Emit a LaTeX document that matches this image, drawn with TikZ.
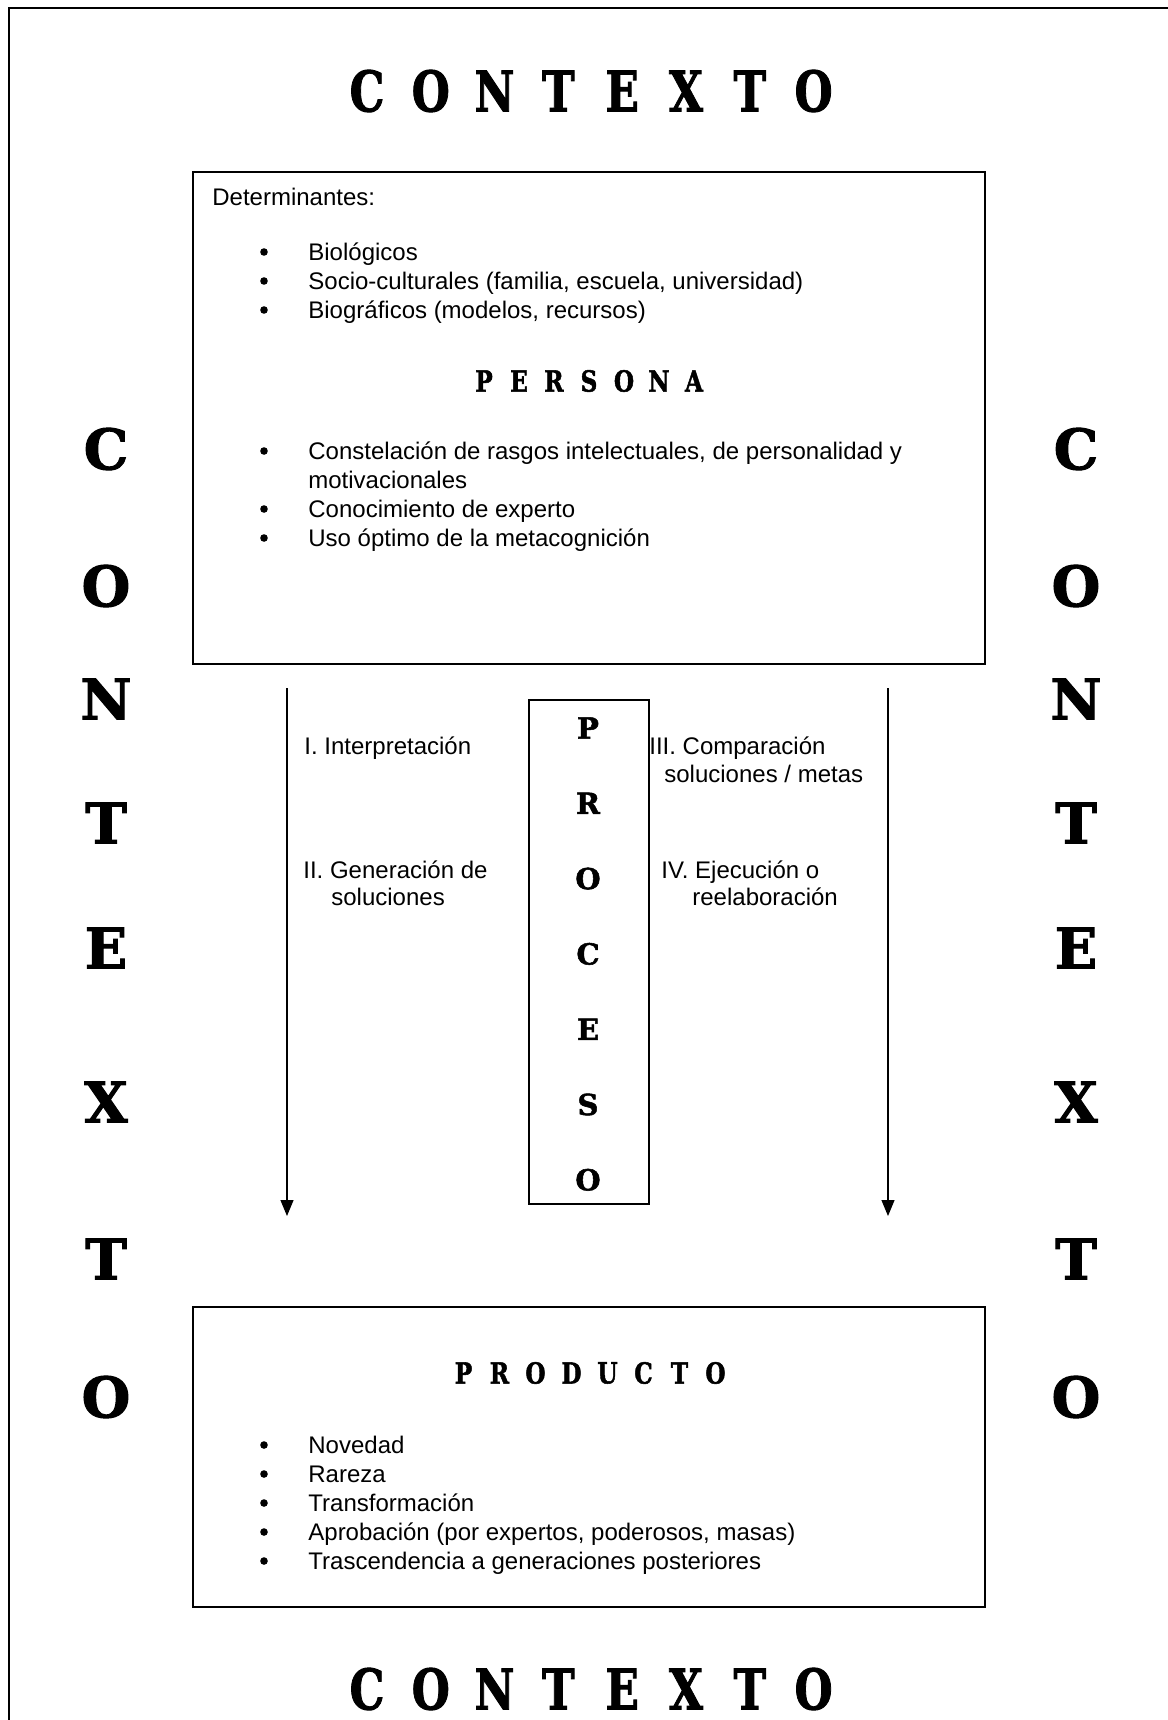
\documentclass[tikz,border=0pt]{standalone}
\usepackage{fontspec}
\setmainfont{Liberation Sans}
\newfontfamily\heavy{DejaVu Serif}[BoldFeatures={FakeBold=1.8}]
\usetikzlibrary{arrows.meta}
\begin{document}
\begin{tikzpicture}[x=0.5pt,y=-0.5pt,
  frameline/.style={line width=1.4pt},
  boxnode/.style={draw,line width=1pt,anchor=north west,inner sep=0pt},
  body/.style={font=\fontsize{12}{14.5}\selectfont,inner sep=0pt,anchor=base west},
  bul/.style={circle,fill,inner sep=0pt,minimum size=3.8pt},
  bigletter/.style={font=\fontsize{28}{30}\heavy\bfseries,inner sep=0pt},
  midletter/.style={font=\fontsize{14.5}{16}\heavy\bfseries,inner sep=0pt},
  flow/.style={line width=0.6pt,-{Triangle[length=8pt,width=6.5pt]}}]
\useasboundingbox (0,0) rectangle (1168,1720);
% outer frame (cropped)
\coordinate (fbl) at (9,1720);
\coordinate (ftl) at (9,8);
\coordinate (ftr) at (1168,8);
\draw[frameline] (fbl) -- (ftl) -- (ftr);

% top and bottom CONTEXTO
\foreach \L [count=\i from 0] in {C,O,N,T,E,X,T,O}{
  \node[bigletter] (top\i) at (367+63.8*\i,91) {\scalebox{0.78}[1]{\L}};
  \node[bigletter] (bot\i) at (367+63.8*\i,1689) {\scalebox{0.78}[1]{\L}};
}
% side CONTEXTO
\foreach \L/\y [count=\i] in {C/449,O/586,N/699,T/823,E/948,X/1102,T/1259,O/1397}{
  \node[bigletter] (left\i) at (106,\y) {\L};
  \node[bigletter] (right\i) at (1076,\y) {\L};
}

% PERSONA box
\node[boxnode,minimum width=396pt,minimum height=246pt] (persona) at (192,171) {};
\node[body] (det) at (212,205) {Determinantes:};
\foreach \t/\y [count=\i] in {Biológicos/260,{Socio-culturales (familia, escuela, universidad)}/289,{Biográficos (modelos, recursos)}/318}{
  \node[bul] (db\i) at (264,\y-8) {};
  \node[body] (dt\i) at (308,\y) {\t};
}
\foreach \L [count=\i from 0] in {P,E,R,S,O,N,A}{
  \node[midletter] (pers\i) at (484+35*\i,381) {\scalebox{0.8}[1]{\L}};
}
\node[bul] (pb1) at (264,451) {};
\node[body] (pt1) at (308,459) {Constelación de rasgos intelectuales, de personalidad y};
\node[body] (pt1b) at (308,488) {motivacionales};
\node[bul] (pb2) at (264,509) {};
\node[body] (pt2) at (308,517) {Conocimiento de experto};
\node[bul] (pb3) at (264,538) {};
\node[body] (pt3) at (308,546) {Uso óptimo de la metacognición};

% PROCESO
\node[boxnode,line width=0.8pt,minimum width=60pt,minimum height=252pt] (proceso) at (528,699) {};
\foreach \L [count=\i from 0] in {P,R,O,C,E,S,O}{
  \node[midletter] (proc\i) at (588,728+75.3*\i) {\L};
}
\coordinate (a1s) at (287,688);
\coordinate (a1e) at (287,1216);
\coordinate (a2s) at (888,688);
\coordinate (a2e) at (888,1216);
\draw[flow] (a1s) -- (a1e);
\draw[flow] (a2s) -- (a2e);
\node[body] (s1) at (304,754) {I. Interpretación};
\node[body] (s2) at (303,878) {II. Generación de};
\node[body] (s2b) at (331,905) {soluciones};
\node[body] (s3) at (649,754) {III. Comparación};
\node[body] (s3b) at (664,782) {soluciones / metas};
\node[body] (s4) at (661,878) {IV. Ejecución o};
\node[body] (s4b) at (692,905) {reelaboración};

% PRODUCTO box
\node[boxnode,minimum width=396pt,minimum height=150pt] (producto) at (192,1306) {};
\foreach \L [count=\i from 0] in {P,R,O,D,U,C,T,O}{
  \node[midletter] (prod\i) at (463.5+36*\i,1373) {\scalebox{0.8}[1]{\L}};
}
\foreach \t/\y [count=\i] in {Novedad/1453,Rareza/1482,Transformación/1511,{Aprobación (por expertos, poderosos, masas)}/1540,{Trascendencia a generaciones posteriores}/1569}{
  \node[bul] (rb\i) at (264,\y-8) {};
  \node[body] (rt\i) at (308,\y) {\t};
}
\end{tikzpicture}
\end{document}
